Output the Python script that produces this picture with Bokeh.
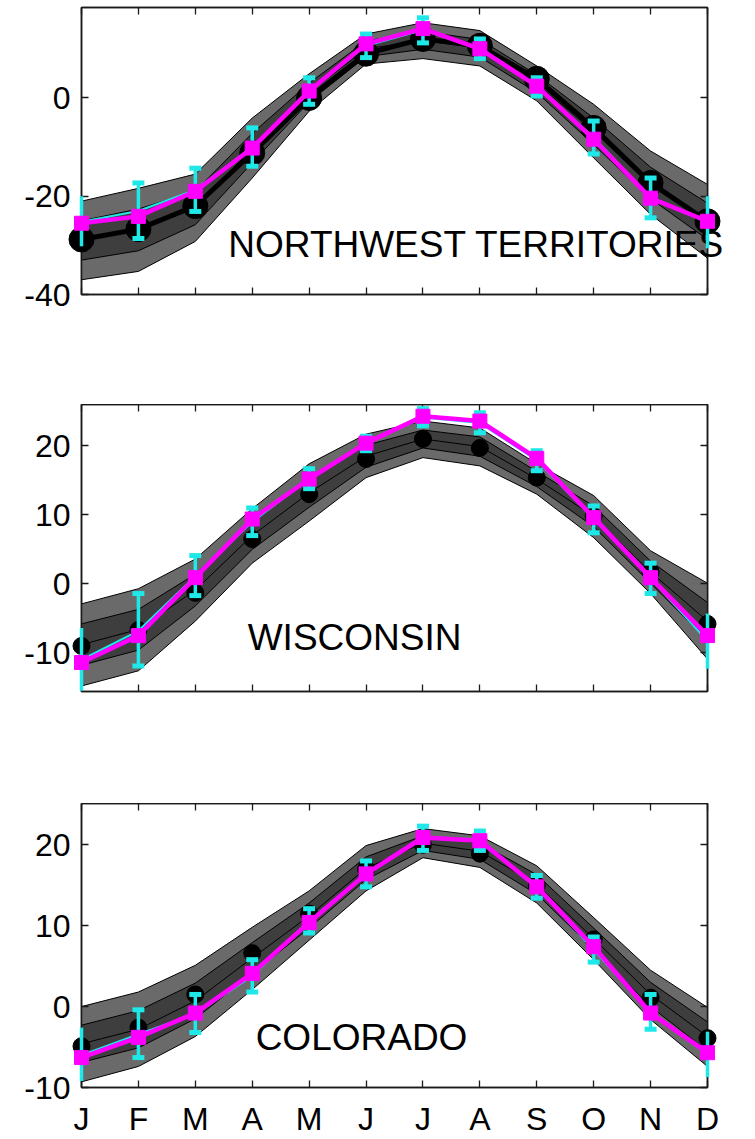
from bokeh.plotting import figure
from bokeh.layouts import column
from bokeh.models import Range1d, FixedTicker, LinearAxis
from bokeh.core.properties import value
from bokeh.embed import file_html
from bokeh.resources import INLINE

# ---------------- data ----------------
months = [1, 2, 3, 4, 5, 6, 7, 8, 9, 10, 11, 12]
month_labels = ["J", "F", "M", "A", "M", "J", "J", "A", "S", "O", "N", "D"]

# Northwest Territories
nwt_obs = [-28.8, -26.7, -22.0, -11.2, 0.0, 9.0, 12.0, 10.6, 3.9, -6.1, -17.3, -25.1]
nwt_model = [-25.5, -24.1, -19.0, -10.2, 1.4, 11.0, 14.1, 10.0, 2.4, -8.4, -20.4, -25.1]
nwt_cyan = [-25.2, -23.0, -18.7, -10.0, 1.4, 10.6, 13.8, 10.0, 2.3, -8.0, -20.3, -25.3]
nwt_cyan_lo = [-30.2, -28.6, -23.1, -13.9, -1.3, 8.2, 11.2, 8.0, 0.4, -11.4, -24.4, -30.6]
nwt_cyan_hi = [-20.0, -17.3, -14.3, -6.1, 4.1, 13.0, 16.3, 12.0, 4.1, -4.7, -16.3, -20.0]
nwt_outer_hi = [-21.0, -18.4, -15.5, -4.1, 4.9, 13.0, 15.3, 13.7, 6.5, -1.3, -10.8, -17.6]
nwt_inner_hi = [-25.0, -22.6, -19.0, -7.2, 3.0, 11.6, 13.5, 11.9, 4.7, -4.1, -14.1, -21.4]
nwt_mid = [-29.0, -26.9, -22.4, -10.2, 1.1, 10.0, 11.7, 10.1, 2.9, -6.8, -17.3, -25.1]
nwt_inner_lo = [-33.0, -31.1, -25.8, -13.2, -0.8, 8.4, 9.9, 8.3, 1.1, -9.5, -20.5, -28.8]
nwt_outer_lo = [-37.0, -35.3, -29.2, -16.3, -2.7, 6.9, 8.0, 6.5, -0.6, -12.2, -23.7, -32.6]

# Wisconsin
wi_obs = [-9.0, -6.7, -1.3, 6.5, 13.0, 18.1, 21.0, 19.7, 15.4, 9.8, 1.7, -5.8]
wi_model = [-11.4, -7.5, 0.9, 9.4, 15.2, 20.4, 24.3, 23.6, 18.2, 9.6, 0.9, -7.5]
wi_cyan = [-11.0, -6.8, 1.1, 9.0, 15.2, 20.3, 24.1, 23.3, 17.9, 9.4, 0.8, -8.3]
wi_cyan_lo = [-15.5, -11.9, -1.7, 7.0, 13.8, 19.3, 22.9, 21.9, 16.4, 7.4, -1.4, -12.3]
wi_cyan_hi = [-6.4, -1.4, 4.1, 11.0, 16.7, 21.4, 25.4, 24.8, 19.3, 11.3, 3.0, -4.3]
wi_outer_hi = [-2.9, -0.7, 3.6, 10.9, 17.4, 21.7, 23.6, 22.6, 17.4, 12.8, 4.8, 0.1]
wi_inner_hi = [-5.8, -3.7, 1.4, 9.0, 15.3, 20.1, 22.3, 21.3, 16.3, 11.3, 3.3, -2.7]
wi_mid = [-8.8, -6.6, -0.9, 7.0, 13.2, 18.5, 21.0, 19.9, 15.2, 9.8, 1.7, -5.4]
wi_inner_lo = [-11.8, -9.6, -3.2, 5.0, 11.1, 16.9, 19.7, 18.5, 14.1, 8.3, 0.1, -8.2]
wi_outer_lo = [-14.8, -12.6, -5.4, 3.0, 9.1, 15.4, 18.3, 17.1, 13.0, 6.7, -1.4, -10.9]

# Colorado
co_obs = [-4.9, -2.6, 1.5, 6.6, 11.5, 17.0, 20.0, 18.9, 15.0, 8.3, 1.1, -3.9]
co_model = [-6.3, -3.8, -0.8, 4.1, 10.4, 16.4, 20.9, 20.5, 14.8, 7.4, -0.8, -5.7]
co_cyan = [-6.0, -3.4, -0.9, 3.8, 10.6, 16.4, 20.8, 20.5, 14.8, 7.0, -0.7, -5.9]
co_cyan_lo = [-9.2, -6.3, -3.2, 1.8, 9.1, 14.8, 19.3, 19.3, 13.4, 5.5, -2.8, -8.7]
co_cyan_hi = [-2.6, -0.4, 1.5, 5.8, 12.1, 18.0, 22.3, 21.7, 16.2, 8.6, 1.5, -3.1]
co_outer_hi = [0.0, 1.8, 5.1, 9.8, 14.3, 19.9, 22.0, 21.1, 17.4, 11.0, 4.5, -0.1]
co_inner_hi = [-2.3, -0.5, 2.9, 7.9, 12.8, 18.5, 21.1, 20.2, 16.3, 9.7, 3.0, -1.9]
co_mid = [-4.6, -2.8, 0.7, 6.0, 11.2, 17.1, 20.2, 19.2, 15.1, 8.4, 1.5, -3.7]
co_inner_lo = [-6.9, -5.1, -1.5, 4.1, 9.7, 15.7, 19.3, 18.2, 13.9, 7.1, 0.0, -5.5]
co_outer_lo = [-9.3, -7.4, -3.7, 2.1, 8.2, 14.3, 18.4, 17.2, 12.8, 5.8, -1.6, -7.4]

panel_names = ["NORTHWEST TERRITORIES", "WISCONSIN", "COLORADO"]
panel_yticks = [[-40, -20, 0], [-10, 0, 10, 20], [-10, 0, 10, 20]]

# ---------------- style ----------------
FONT = "Liberation Sans"
AXC = "#1a1a1a"
CYAN = "#1ee8e8"
MAGENTA = "#ff00ff"
OUTER = "#6a6a6a"
INNER = "#3e3e3e"


def style_axis(ax, ticks, show_labels, font_size="32px", standoff=10, overrides=None):
    ax.ticker = FixedTicker(ticks=ticks)
    ax.major_tick_in = 7
    ax.major_tick_out = 0
    ax.minor_tick_line_color = None
    ax.axis_line_color = AXC
    ax.axis_line_width = 1.5
    ax.major_tick_line_color = AXC
    ax.major_tick_line_width = 1.3
    ax.axis_label = None
    if overrides:
        ax.major_label_overrides = overrides
    if show_labels:
        ax.major_label_text_font = FONT
        ax.major_label_text_font_size = font_size
        ax.major_label_text_color = "black"
        ax.major_label_standoff = standoff
    else:
        # tick marks only: labels are not drawn at all
        ax.major_label_text_color = None
        ax.major_label_text_font_size = "1px"
        ax.major_label_standoff = 0


def make_panel(height, border_top, border_bottom, yrange, yticks, name, label_xy,
               obs, model, cyan, cyan_lo, cyan_hi,
               outer_hi, inner_hi, mid, inner_lo, outer_lo,
               obs_size, obs_line, show_months):
    p = figure(width=755, height=height,
               min_border_left=81, min_border_right=48,
               min_border_top=border_top, min_border_bottom=border_bottom,
               x_range=Range1d(1, 12), y_range=Range1d(*yrange),
               output_backend="svg", toolbar_location=None)
    p.xgrid.visible = False
    p.ygrid.visible = False
    p.outline_line_color = AXC
    p.outline_line_width = 1.5
    p.background_fill_color = "white"
    p.border_fill_color = "white"

    month_over = {m: lab for m, lab in zip(months, month_labels)}
    ytick_over = {t: str(t) for t in yticks}   # plain hyphen minus, as in the original
    style_axis(p.xaxis[0], months, show_months, font_size="32px", standoff=13,
               overrides=month_over)
    style_axis(p.yaxis[0], yticks, True, font_size="32px", standoff=11,
               overrides=ytick_over)
    top = LinearAxis()
    style_axis(top, months, False)
    p.add_layout(top, "above")
    right = LinearAxis()
    style_axis(right, yticks, False)
    p.add_layout(right, "right")

    # spread bands
    p.varea(x=months, y1=outer_lo, y2=outer_hi, fill_color=OUTER)
    p.varea(x=months, y1=inner_lo, y2=inner_hi, fill_color=INNER)
    for arr in (outer_hi, inner_hi, mid, inner_lo, outer_lo):
        p.line(x=months, y=arr, line_color="black", line_width=1)

    # region name (unclipped so it may run past the frame)
    p.text(x=[label_xy[0]], y=[label_xy[1]], text=[name],
           text_font=value(FONT), text_font_size=value("37px"),
           text_color="black", text_align="left", text_baseline="alphabetic",
           level="overlay")

    # observations
    if obs_line:
        p.line(x=months, y=obs, line_color="black", line_width=5, level="overlay")
    p.scatter(x=months, y=obs, marker="circle", size=obs_size,
              fill_color="black", line_color="black", level="overlay")

    # cyan mean with error bars
    p.line(x=months, y=cyan, line_color=CYAN, line_width=2, level="overlay")
    p.segment(x0=months, y0=cyan_lo, x1=months, y1=cyan_hi,
              line_color=CYAN, line_width=3.5, level="overlay")
    p.scatter(x=months[1:11], y=cyan_lo[1:11], marker="dash", size=12,
              line_color=CYAN, line_width=5, level="overlay")
    p.scatter(x=months[1:11], y=cyan_hi[1:11], marker="dash", size=12,
              line_color=CYAN, line_width=5, level="overlay")

    # magenta model
    p.line(x=months, y=model, line_color=MAGENTA, line_width=4.5, level="overlay")
    p.scatter(x=months, y=model, marker="square", size=14,
              fill_color=MAGENTA, line_color=MAGENTA, level="overlay")
    return p


p1 = make_panel(404, 7, 110, (-40, 18.4), panel_yticks[0], panel_names[0], (3.58, -29.8),
                nwt_obs, nwt_model, nwt_cyan, nwt_cyan_lo, nwt_cyan_hi,
                nwt_outer_hi, nwt_inner_hi, nwt_mid, nwt_inner_lo, nwt_outer_lo,
                25, True, False)
p2 = make_panel(399, 0, 112, (-15.6, 26.0), panel_yticks[1], panel_names[1], (3.92, -7.8),
                wi_obs, wi_model, wi_cyan, wi_cyan_lo, wi_cyan_hi,
                wi_outer_hi, wi_inner_hi, wi_mid, wi_inner_lo, wi_outer_lo,
                17, False, False)
p3 = make_panel(336, 0, 50, (-10, 25.1), panel_yticks[2], panel_names[2], (4.06, -3.8),
                co_obs, co_model, co_cyan, co_cyan_lo, co_cyan_hi,
                co_outer_hi, co_inner_hi, co_mid, co_inner_lo, co_outer_lo,
                17, False, True)

layout = column(p1, p2, p3, spacing=0)
open("out.html", "w").write(file_html(layout, INLINE))
